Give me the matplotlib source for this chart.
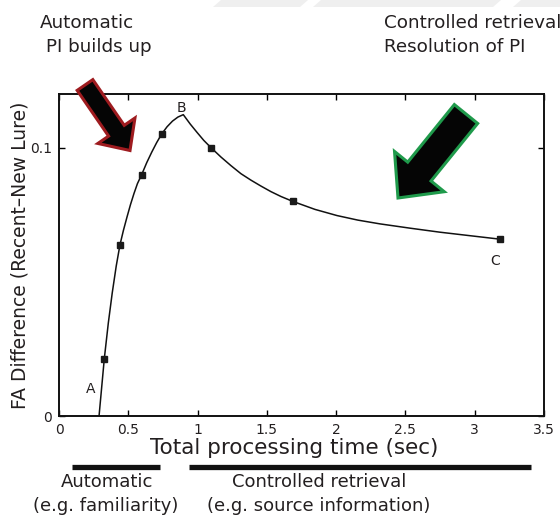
import matplotlib
matplotlib.use("Agg")
import matplotlib.pyplot as plt
from matplotlib.patches import FancyArrow, Polygon
from matplotlib.transforms import Affine2D, blended_transform_factory

plt.rcParams["font.family"] = ["DejaVu Sans"]

# Observed FA difference at each total processing time
time_points = [0.327, 0.440, 0.597, 0.741, 1.097, 1.686, 3.182]
fa_diff = [0.0214, 0.0638, 0.0900, 0.1051, 0.1000, 0.0800, 0.0659]

# Fitted curve (rise to the peak B, then decline toward C)
fit_time = [0.289, 0.327, 0.356, 0.384, 0.413, 0.440, 0.465, 0.491, 0.516,
            0.541, 0.566, 0.597, 0.633, 0.669, 0.705, 0.741, 0.780, 0.819,
            0.858, 0.897, 0.947, 0.996, 1.045, 1.097, 1.169, 1.241, 1.313,
            1.385, 1.457, 1.530, 1.602, 1.686, 1.847, 2.006, 2.157, 2.316,
            2.533, 2.749, 2.965, 3.182]
fit_value = [0.0000, 0.0214, 0.0347, 0.0458, 0.0559, 0.0638, 0.0692, 0.0742,
             0.0788, 0.0829, 0.0866, 0.0900, 0.0944, 0.0983, 0.1019, 0.1051,
             0.1078, 0.1099, 0.1114, 0.1123, 0.1088, 0.1057, 0.1027, 0.1000,
             0.0965, 0.0933, 0.0903, 0.0879, 0.0857, 0.0836, 0.0818, 0.0800,
             0.0770, 0.0747, 0.0730, 0.0716, 0.0700, 0.0685, 0.0672, 0.0659]

x_ticks = [0, 0.5, 1, 1.5, 2, 2.5, 3, 3.5]
x_tick_labels = ["0", "0.5", "1", "1.5", "2", "2.5", "3", "3.5"]
y_ticks = [0, 0.1]
y_tick_labels = ["0", "0.1"]

point_labels = ["A", "B", "C"]
point_label_pos = [(0.231, 0.0101), (0.887, 0.1149), (3.146, 0.0576)]

automatic_span = (0.094, 0.729)
controlled_span = (0.938, 3.405)

INK = "#231f20"
W, H = 560, 522

fig = plt.figure(figsize=(W / 100, H / 100), dpi=100)
ax = fig.add_axes([59 / W, (H - 416) / H, 485 / W, 322 / H])

ax.plot(fit_time, fit_value, color="#111111", lw=1.1, zorder=2)
ax.plot(time_points, fa_diff, ls="none", marker="s", ms=4.3,
        color="#1a1a1a", zorder=3)

ax.set_xlim(0, 3.5)
ax.set_ylim(0, 0.12)
ax.set_xticks(x_ticks)
ax.set_xticklabels(x_tick_labels)
ax.set_yticks(y_ticks)
ax.set_yticklabels(y_tick_labels)
ax.tick_params(direction="in", top=True, right=True, length=4, width=1,
               labelsize=10, labelcolor=INK, pad=5)
for s in ax.spines.values():
    s.set_linewidth(1.4)
    s.set_color("#111111")

for lab, (tx, ty) in zip(point_labels, point_label_pos):
    ax.text(tx, ty, lab, ha="center", va="center", fontsize=10, color=INK)

ax.set_xlabel("Total processing time (sec)", fontsize=15.5, color=INK,
              va="center")
ax.xaxis.set_label_coords((294 - 59) / 485, (416 - 448) / 322)
ax.set_ylabel("FA Difference (Recent\u2013New Lure)", fontsize=13.5,
              color=INK, va="center")
ax.yaxis.set_label_coords((20 - 59) / 485, 0.5)

# Phase bars under the time axis
blend = blended_transform_factory(ax.transData, ax.transAxes)
bar_y = (416 - 466.5) / 322
for span in (automatic_span, controlled_span):
    ax.plot(span, [bar_y, bar_y], transform=blend, clip_on=False,
            color="#111111", lw=3.8, solid_capstyle="butt")


def ftext(x, y, s, **kw):
    fig.text(x / W, 1 - y / H, s, color=INK, **kw)


ftext(107, 482, "Automatic", fontsize=13, ha="center", va="center")
ftext(106, 506, "(e.g. familiarity)", fontsize=13, ha="center", va="center")
ftext(319, 482, "Controlled retrieval", fontsize=13, ha="center", va="center")
ftext(319, 506, "(e.g. source information)", fontsize=13, ha="center",
      va="center")

ftext(40, 27.5, "Automatic", fontsize=13.2, ha="left", va="baseline")
ftext(46, 52.5, "PI builds up", fontsize=13.2, ha="left", va="baseline")
ftext(384, 27.5, "Controlled retrieval", fontsize=13.2, ha="left",
      va="baseline")
ftext(384, 52.5, "Resolution of PI", fontsize=13.2, ha="left", va="baseline")

# Pixel-space transform (origin top-left) for the decorations
px = Affine2D().scale(1 / 100, -1 / 100).translate(0, H / 100) + fig.dpi_scale_trans

for xs in ((213, 300), (313, 493), (513, 568)):
    band = Polygon([(xs[0], 7), (xs[0] + 8, 0), (xs[1] + 8, 0), (xs[1], 7)],
                   closed=True, fc="#efefef", ec="none", transform=px)
    fig.add_artist(band)

red_arrow = FancyArrow(85.0, 85.0, 45.0, 65.5, width=19, head_width=45,
                       head_length=24, length_includes_head=True,
                       fc="#050505", ec="#9e1b1f", lw=2.2,
                       joinstyle="miter", transform=px)
green_arrow = FancyArrow(466, 114, -68, 84, width=30, head_width=64,
                         head_length=34, length_includes_head=True,
                         fc="#050505", ec="#1f9a4b", lw=2.2,
                         joinstyle="miter", transform=px)
fig.add_artist(red_arrow)
fig.add_artist(green_arrow)

fig.savefig("out.png", dpi=100)
